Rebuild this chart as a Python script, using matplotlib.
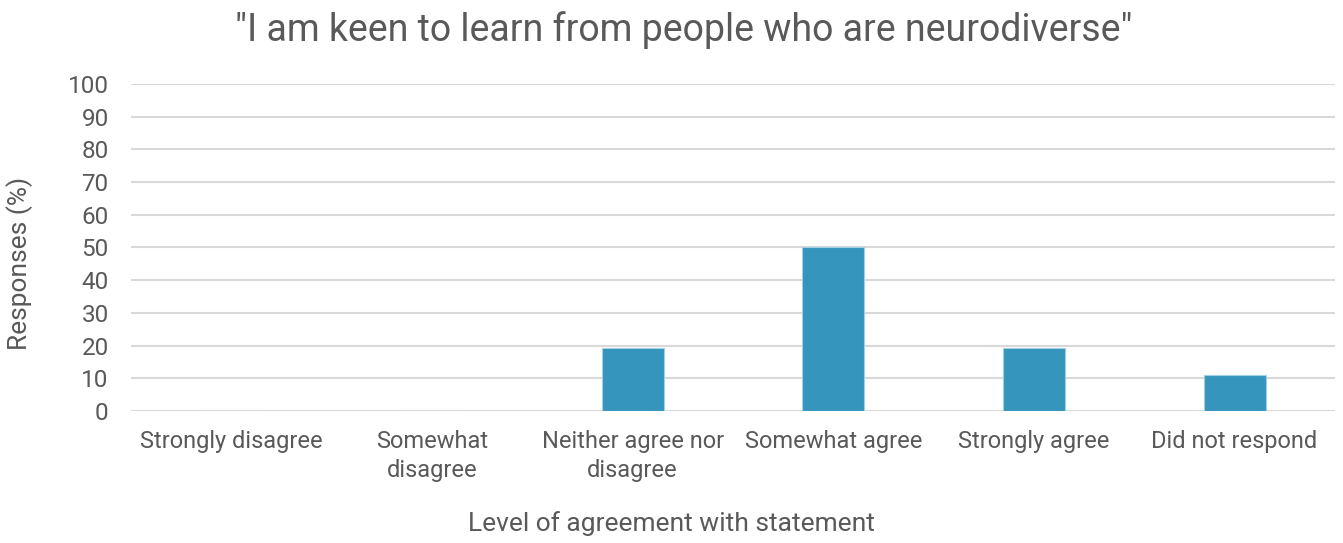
import matplotlib.pyplot as plt
import numpy as np

plt.rcParams['font.family'] = ['Roboto', 'DejaVu Sans']

categories = ["Strongly disagree", "Somewhat\ndisagree", "Neither agree nor\ndisagree",
              "Somewhat agree", "Strongly agree", "Did not respond"]
# percentage of 36 respondents
responses = [0, 0, 19.4, 50.0, 19.4, 11.1]
yticks = list(range(0, 101, 10))

text_col = '#595959'
bar_col = '#3595bc'

fig = plt.figure(figsize=(13.43, 5.43), dpi=100)
ax = fig.add_axes([0.0975, 0.2431, 0.8965, 0.6022])

x = np.arange(len(categories))
ax.bar(x, responses, width=0.31, color=bar_col, edgecolor='#9fd0e4', linewidth=0.8, zorder=3)

ax.set_xlim(-0.5, len(categories) - 0.5)
ax.set_ylim(0, 100)
ax.set_yticks(yticks)
ax.set_xticks(x)
ax.set_xticklabels(categories, fontsize=17, color=text_col, linespacing=1.32)
ax.tick_params(axis='y', labelsize=17.5, labelcolor=text_col, length=0, pad=16)
ax.tick_params(axis='x', length=0, pad=14)
ax.yaxis.grid(True, color='#d9d9d9', linewidth=1.5, zorder=0)
for s in ax.spines.values():
    s.set_visible(False)

ax.set_ylabel("Responses (%)", fontsize=19, color=text_col)
ax.yaxis.set_label_coords(-0.081, 0.45)
fig.text(0.5, 0.036, "Level of agreement with statement", ha='center', va='center',
         fontsize=19, color=text_col)
fig.text(0.509, 0.945, '"I am keen to learn from people who are neurodiverse"', ha='center',
         va='center', fontsize=27, color=text_col)

fig.savefig('out.png', dpi=100, facecolor='white')
